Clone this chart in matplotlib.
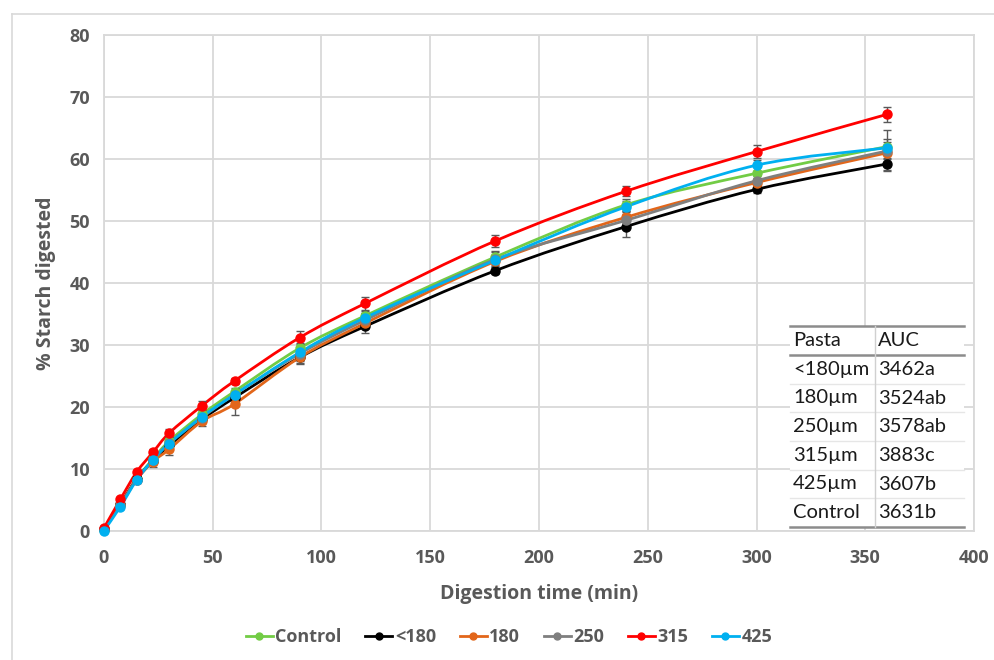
import numpy as np
import matplotlib
matplotlib.use("Agg")
import matplotlib.pyplot as plt
from matplotlib.path import Path
from matplotlib.patches import PathPatch, Rectangle
from matplotlib.lines import Line2D

# ---------------- data ----------------
time_min = [0, 7.5, 15, 22.5, 30, 45, 60, 90, 120, 180, 240, 300, 360]

series_names = ["Control", "<180", "180", "250", "315", "425"]
control = [0.2, 4.2, 8.4, 11.6, 14.5, 18.8, 22.5, 29.5, 34.7, 44.2, 52.6, 57.7, 62.0]
lt180 = [0.3, 4.3, 8.4, 11.3, 13.8, 18.0, 21.5, 28.0, 33.0, 42.0, 49.1, 55.1, 59.2]
s180 = [0.3, 4.2, 8.3, 11.2, 13.2, 17.7, 20.5, 28.0, 33.5, 43.5, 50.6, 56.2, 61.0]
s250 = [0.3, 4.2, 8.3, 11.4, 14.2, 18.3, 22.0, 28.6, 34.0, 43.8, 50.1, 56.5, 61.3]
s315 = [0.5, 5.1, 9.5, 12.7, 15.8, 20.2, 24.2, 31.2, 36.7, 46.8, 54.8, 61.2, 67.2]
s425 = [0.05, 3.9, 8.2, 11.5, 14.1, 18.4, 22.0, 28.8, 34.4, 43.7, 52.3, 59.0, 61.8]

err_control = [0.2, 0.3, 0.4, 0.5, 0.6, 0.7, 0.6, 0.9, 0.8, 1.0, 1.0, 1.0, 1.2]
err_lt180 = [0.2, 0.3, 0.4, 0.5, 0.6, 0.6, 0.8, 1.0, 1.0, 0.6, 1.6, 0.6, 1.0]
err_s180 = [0.2, 0.3, 0.4, 0.9, 1.0, 0.7, 1.8, 0.9, 0.8, 0.8, 1.0, 0.8, 1.0]
err_s250 = [0.2, 0.3, 0.4, 0.5, 0.6, 0.7, 0.8, 1.2, 1.1, 1.2, 1.0, 0.8, 3.3]
err_s315 = [0.2, 0.3, 0.4, 0.5, 0.6, 0.7, 0.5, 1.0, 1.0, 1.0, 0.8, 1.0, 1.2]
err_s425 = [0.2, 0.3, 0.4, 0.5, 0.6, 0.7, 0.6, 0.8, 0.8, 0.8, 0.9, 0.9, 1.0]

series_colors = ["#72CC45", "#000000", "#E2661A", "#7F7F7F", "#FF0000", "#00B0F0"]

table_header = ["Pasta", "AUC"]
table_pasta = ["<180\u00b5m", "180\u00b5m", "250\u00b5m", "315\u00b5m", "425\u00b5m", "Control"]
table_auc = ["3462a", "3524ab", "3578ab", "3883c", "3607b", "3631b"]

x_ticks = [0, 50, 100, 150, 200, 250, 300, 350, 400]
y_ticks = [0, 10, 20, 30, 40, 50, 60, 70, 80]

# ---------------- figure ----------------
W, H = 995, 660
fig = plt.figure(figsize=(W / 100, H / 100), dpi=100)
plt.rcParams['font.family'] = ['Open Sans', 'DejaVu Sans']

def px(x, y):
    return x / W, 1 - y / H

# outer chart frame (light)
fig.add_artist(Line2D([12 / W, 12 / W], [0, 1 - 14 / H], color="#d9d9d9", lw=1.2,
                      transform=fig.transFigure))
fig.add_artist(Line2D([12 / W, 1], [1 - 14 / H, 1 - 14 / H], color="#d9d9d9", lw=1.2,
                      transform=fig.transFigure))

l, b = px(104, 531)
r, t = px(974, 35)
ax = fig.add_axes([l, b, r - l, t - b])
ax.set_xlim(0, 400)
ax.set_ylim(0, 80)
ax.set_xticks(x_ticks)
ax.set_yticks(y_ticks)
ax.grid(True, color="#d9d9d9", lw=1.3)
ax.set_axisbelow(True)
for s in ax.spines.values():
    s.set_color("#d9d9d9")
    s.set_linewidth(1.3)
ax.tick_params(length=0, labelsize=13, labelcolor="#595959")
ax.tick_params(axis="x", pad=13)
ax.tick_params(axis="y", pad=10)
for lab in ax.get_xticklabels() + ax.get_yticklabels():
    lab.set_fontweight("bold")
ax.set_xlabel("Digestion time (min)", fontsize=14, fontweight="bold", color="#595959", labelpad=12)
ax.set_ylabel("% Starch digested", fontsize=14, fontweight="bold", color="#595959", labelpad=10)


def smooth_path(x, y):
    x = np.asarray(x, float)
    y = np.asarray(y, float)
    P = np.column_stack([x, y])
    n = len(P)
    verts = [P[0]]
    codes = [Path.MOVETO]
    for i in range(n - 1):
        p0 = P[i - 1] if i > 0 else P[i]
        p1 = P[i]
        p2 = P[i + 1]
        p3 = P[i + 2] if i + 2 < n else P[i + 1]
        c1 = p1 + (p2 - p0) / 6.0
        c2 = p2 - (p3 - p1) / 6.0
        verts += [c1, c2, p2]
        codes += [Path.CURVE4] * 3
    return Path(verts, codes)


all_series = [control, lt180, s180, s250, s315, s425]
all_err = [err_control, err_lt180, err_s180, err_s250, err_s315, err_s425]

handles = []
for name, ys, es, c in zip(series_names, all_series, all_err, series_colors):
    patch = PathPatch(smooth_path(time_min, ys), fill=False, edgecolor=c, lw=2.0, zorder=3)
    ax.add_patch(patch)
    ax.errorbar(time_min, ys, yerr=es, fmt="none", ecolor="#595959", elinewidth=1.0,
                capsize=3, capthick=1.0, zorder=4)
    ax.plot(time_min, ys, "o", ms=6.5, color=c, mec=c, zorder=5, clip_on=False)
    handles.append(Line2D([0], [0], color=c, lw=2, marker="o", ms=5, label=name))

leg = fig.legend(handles=handles, loc="center", bbox_to_anchor=(509 / W, 1 - 637 / H),
                 ncol=6, frameon=False, handlelength=1.5, handletextpad=0.15,
                 columnspacing=1.3, prop={"size": 13, "weight": "bold"})
for txt in leg.get_texts():
    txt.set_color("#595959")

# ---------------- AUC table ----------------
tx0, tx1, tsplit = 790, 964, 875
ty_top, ty_head, ty_bot = 326, 355, 527
x0f, y0f = px(tx0, ty_bot)
x1f, y1f = px(tx1, ty_top)
fig.add_artist(Rectangle((x0f, y0f), x1f - x0f, y1f - y0f, transform=fig.transFigure,
                         facecolor="white", edgecolor="none", zorder=6))

def hline(y, color, lw):
    fig.add_artist(Line2D([tx0 / W, tx1 / W], [1 - y / H, 1 - y / H], color=color, lw=lw,
                          transform=fig.transFigure, zorder=7))

row_h = (ty_bot - ty_head) / len(table_pasta)
for k in range(1, len(table_pasta)):
    hline(ty_head + k * row_h, "#e6e6e6", 1.0)
hline(ty_top, "#8c8c8c", 1.8)
hline(ty_head, "#8c8c8c", 1.8)
hline(ty_bot, "#8c8c8c", 1.8)
fig.add_artist(Line2D([tsplit / W, tsplit / W], [1 - ty_top / H, 1 - ty_bot / H],
                      color="#d0d0d0", lw=1.0, transform=fig.transFigure, zorder=7))

tkw = dict(fontsize=14.5, color="#1a1a1a", va="center", ha="left", zorder=8,
           family=["Lato", "DejaVu Sans"])
fig.text(*px(tx0 + 3, (ty_top + ty_head) / 2), table_header[0], **tkw)
fig.text(*px(tsplit + 3, (ty_top + ty_head) / 2), table_header[1], **tkw)
for k, (p, a) in enumerate(zip(table_pasta, table_auc)):
    yc = ty_head + (k + 0.5) * row_h
    fig.text(*px(tx0 + 3, yc), p, **tkw)
    fig.text(*px(tsplit + 3, yc), a, **tkw)

fig.savefig("out.png", dpi=100)
